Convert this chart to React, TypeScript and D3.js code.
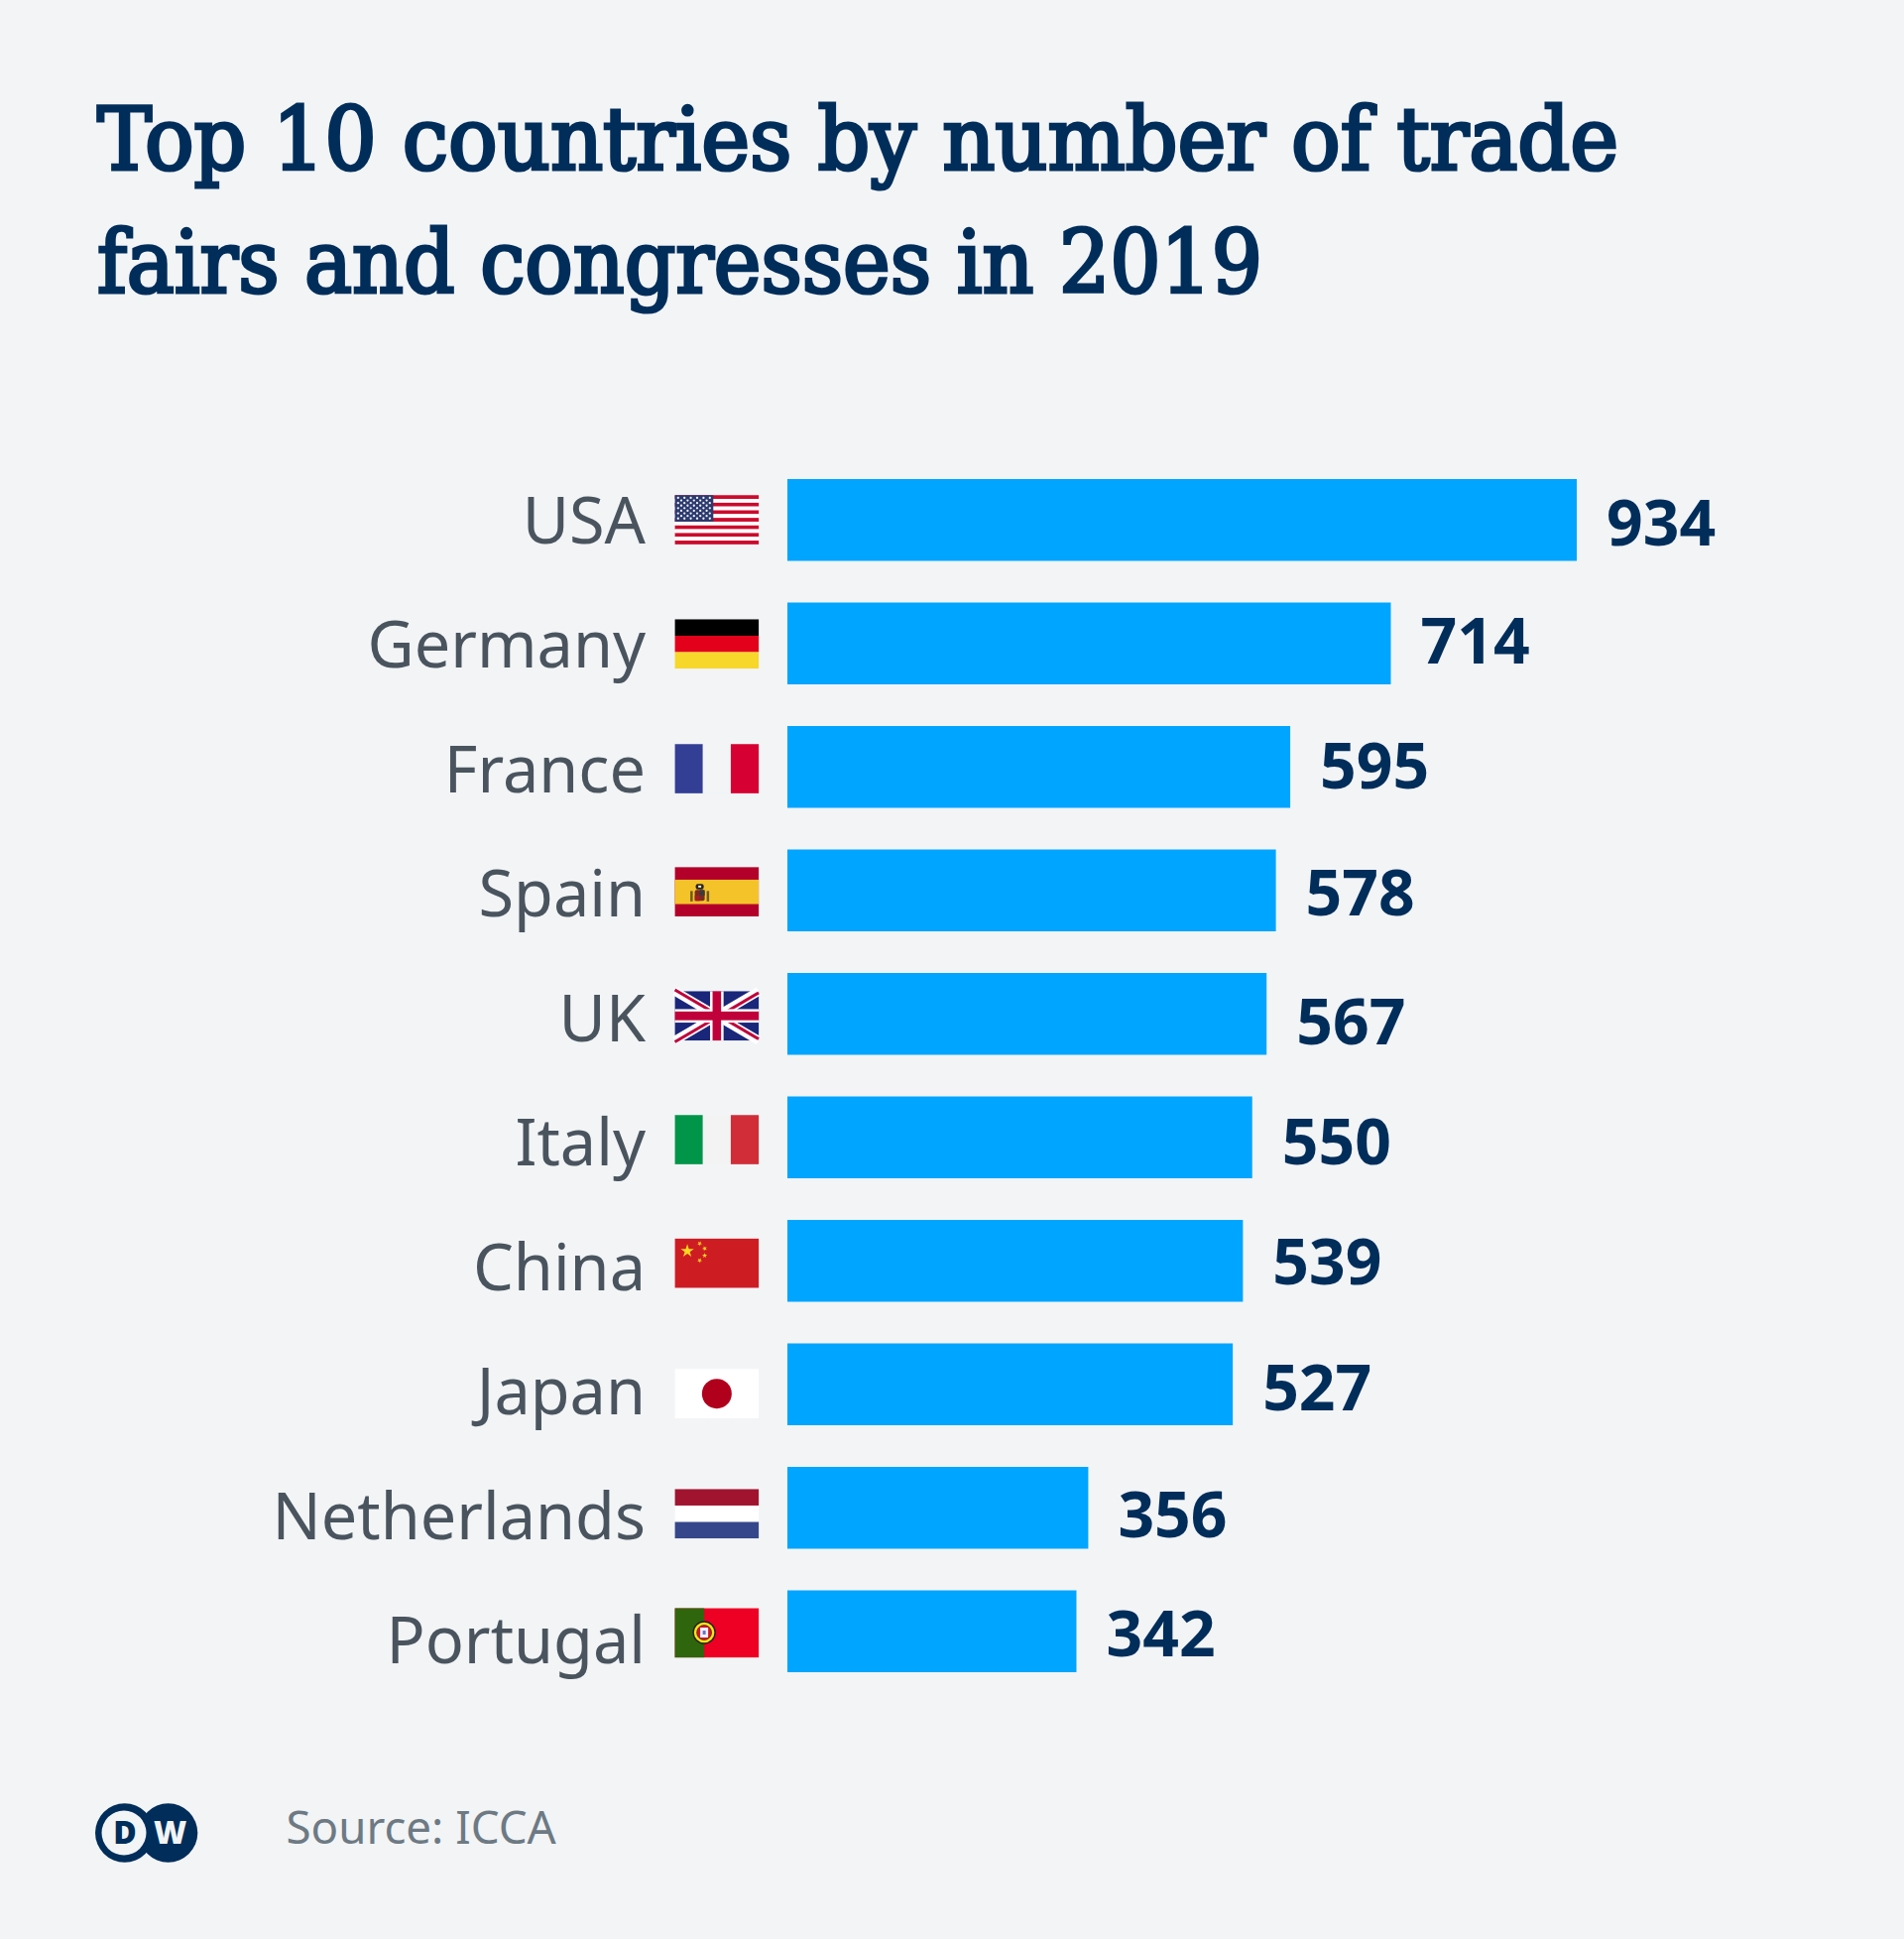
import React from "react";
import * as d3 from "d3";

const countries = ["USA","Germany","France","Spain","UK","Italy","China","Japan","Netherlands","Portugal"];
const counts = [934,714,595,578,567,550,539,527,356,342];
const titleLines = ["Top 10 countries by number of trade","fairs and congresses in 2019"];
const titleWidths = [1534,1175];
const sourceText = "Source: ICCA";
// small hand-placement offsets of the original, per row (px, relative to the bar centre)
const valueBaselineOffsets = [25.8,20.4,22,25,30.8,27.5,23.9,25.8,29.8,25];
const flagOffsets = [0,.7,2,1.6,2.2,2.5,2.6,9.6,6.2,1.8];

const NAVY = "#002d5a";
const BG = "#f2f4f6";
const x = d3.scaleLinear().domain([0,934]).range([794,1590]);
const y = d3.scaleBand<string>().domain(countries).range([483,1686]).paddingInner(0.3372).paddingOuter(0);
const labelY = d3.scaleLinear().domain([0,9]).range([547.7,1677.3]);

const FW = 84.5, FH = 49.6;

function star(cx:number,cy:number,r:number,rot=0){
  const pts:[number,number][]=[];
  for(let i=0;i<10;i++){const a=rot-Math.PI/2+i*Math.PI/5;const q=i%2?r*0.382:r;pts.push([cx+q*Math.cos(a),cy+q*Math.sin(a)]);}
  return pts.map(p=>p.join(",")).join(" ");
}
const stripes=(cols:string[],vertical=false)=>cols.map((c,i)=>vertical
  ?<rect key={i} x={i*FW/cols.length} y={0} width={FW/cols.length} height={FH} fill={c}/>
  :<rect key={i} x={0} y={i*FH/cols.length} width={FW} height={FH/cols.length} fill={c}/>);

function Flag({name}:{name:string}){
  switch(name){
    case "USA": {
      const s=FH/13; const stars:React.ReactNode[]=[];
      for(let r=0;r<9;r++){const n=r%2?5:6;for(let c=0;c<n;c++){
        stars.push(<circle key={r+"-"+c} cx={(r%2?6.4:3.2)+c*6.4} cy={2.7+r*2.6} r={1.15} fill="#eef0f6"/>);}}
      return <g>{d3.range(13).map(i=><rect key={i} x={0} y={i*s} width={FW} height={s} fill={i%2?"#fff":"#cc0a2c"}/>)}
        <rect width={38.7} height={26.7} fill="#2c3a6e"/>{stars}</g>;
    }
    case "Germany": return <g>{stripes(["#000","#e2001a","#f7d72a"])}</g>;
    case "France": return <g>{stripes(["#333f94",BG,"#d60032"],true)}</g>;
    case "Spain": return <g>{stripes(["#b3002a"])}
      <rect y={12.6} width={FW} height={24.6} fill="#f4c32a"/>
      <rect x={15.5} y={24} width={2.5} height={10.5} fill="#6e5a20"/><rect x={32} y={24} width={2.5} height={10.5} fill="#6e5a20"/>
      <rect x={20} y={23} width={10} height={11} rx={2} fill="#7a2a20"/>
      <rect x={25} y={23} width={5} height={5.5} fill="#3a3a3a"/><rect x={20} y={28.5} width={5} height={5.5} fill="#a02020"/>
      <rect x={21} y={17} width={8} height={5.5} rx={2} fill="#2a2416"/><rect x={23.5} y={18.5} width={3} height={2} fill="#f2eddc"/></g>;
    case "UK": return <g>
      <rect width={FW} height={FH} fill="#19267a"/>
      <path d={`M0,0L${FW},${FH}M${FW},0L0,${FH}`} stroke="#fff" strokeWidth={9}/>
      <path d={`M0,-1.5L${FW},${FH-1.5}M${FW},1.5L0,${FH+1.5}`} stroke="#c0003a" strokeWidth={3}/>
      <rect x={FW/2-6.8} width={13.6} height={FH} fill="#fff"/><rect y={FH/2-6.8} width={FW} height={13.6} fill="#fff"/>
      <rect x={FW/2-4.3} width={8.6} height={FH} fill="#c0003a"/><rect y={FH/2-4.4} width={FW} height={8.8} fill="#c0003a"/></g>;
    case "Italy": return <g>{stripes(["#009548","#f3f3f3","#d02d38"],true)}</g>;
    case "China": return <g><rect width={FW} height={FH} fill="#cd1d23"/>
      <polygon points={star(12.5,12.5,7)} fill="#fcd820"/>
      <polygon points={star(25,5,2.7,0.5)} fill="#fcd820"/><polygon points={star(30,10,2.7,0.9)} fill="#fcd820"/>
      <polygon points={star(30,17,2.7,0)} fill="#fcd820"/><polygon points={star(25,22,2.7,0.5)} fill="#fcd820"/></g>;
    case "Japan": return <g><rect width={FW} height={FH} fill="#fff"/><circle cx={FW/2} cy={FH/2} r={15} fill="#b0001c"/></g>;
    case "Netherlands": return <g>{stripes(["#a0142f","#fff","#35478a"])}</g>;
    case "Portugal": return <g><rect width={FW} height={FH} fill="#ee0024"/>
      <rect width={29.5} height={FH} fill="#2f650c"/>
      <circle cx={29.5} cy={24.5} r={11} fill="#f6e514" stroke="#222" strokeWidth={1.4}/>
      <circle cx={29.5} cy={24.5} r={7.5} fill="#d8102a" stroke="#222" strokeWidth={.6}/><rect x={25.5} y={19.5} width={8} height={10} fill="#f3f3ff"/>
      <rect x={28} y={22.5} width={3} height={4} fill="#6a72c0"/></g>;
  }
  return null;
}

export default function App(){
  return (
    <svg width={1920} height={1955} viewBox="0 0 1920 1955" style={{position:"absolute",left:0,top:0,display:"block"}}>
      <rect width={1920} height={1955} fill={BG}/>
      {titleLines.map((t,i)=><text key={t} x={98} y={170.7+i*124.3} fontFamily="'DejaVu Serif Condensed','DejaVu Serif',serif" fontSize={88} fill={NAVY} stroke={NAVY} strokeWidth={3.2} textLength={titleWidths[i]} lengthAdjust="spacingAndGlyphs">{t}</text>)}
      {countries.map((c,i)=>{
        const by=y(c)!, h=y.bandwidth(), cy=by+h/2;
        return <g key={c}>
          <text x={651} y={labelY(i)} textAnchor="end" fontFamily="'Noto Sans',sans-serif" fontSize={64.8} fill="#4a545e">{c}</text>
          <g transform={`translate(680.6,${cy-FH/2-0.2+flagOffsets[i]})`}><Flag name={c}/></g>
          <rect x={x(0)} y={by} width={x(counts[i])-x(0)} height={h} fill="#00a5ff"/>
          <text x={x(counts[i])+30} y={cy+valueBaselineOffsets[i]} fontFamily="'Noto Sans',sans-serif" fontWeight={700} fontSize={64.2} fill={NAVY}>{counts[i]}</text>
        </g>;
      })}
      <g>
        <circle cx={125.7} cy={1848} r={29.7} fill={NAVY}/>
        <circle cx={169.6} cy={1848} r={29.7} fill={NAVY}/>
        <circle cx={125} cy={1848} r={22.5} fill={BG}/>
        <text x={126} y={1859} textAnchor="middle" fontFamily="'Open Sans',sans-serif" fontWeight={800} fontSize={32} fill={NAVY}>D</text>
        <text x={171.5} y={1859} textAnchor="middle" fontFamily="'Open Sans',sans-serif" fontWeight={800} fontSize={32} fill={BG}>W</text>
      </g>
      <text x={288.5} y={1859} fontFamily="'Noto Sans',sans-serif" fontSize={45.7} fill="#6d7a84">{sourceText}</text>
    </svg>
  );
}
